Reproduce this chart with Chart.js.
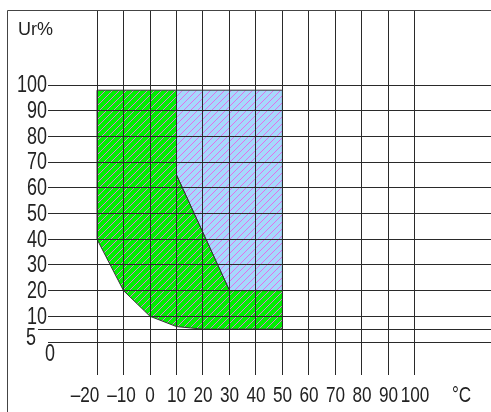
<!DOCTYPE html>
<html>
<head>
<meta charset="utf-8">
<script src="https://cdn.jsdelivr.net/npm/chart.js@4/dist/chart.umd.min.js"></script>
<style>
html,body{margin:0;padding:0;background:#fff;}
canvas{display:block;}
</style>
</head>
<body>
<canvas id="c" width="491" height="412"></canvas>
<script>
// ---- data ----
const xTicks = [-20, -10, 0, 10, 20, 30, 40, 50, 60, 70, 80, 90, 100];
const xLabels = ['–20', '–10', '0', '10', '20', '30', '40', '50', '60', '70', '80', '90', '100'];
const yTicks = [0, 5, 10, 20, 30, 40, 50, 60, 70, 80, 90, 100];
const yLabels = ['0', '5', '10', '20', '30', '40', '50', '60', '70', '80', '90', '100'];
const xUnit = '°C';
const yUnit = 'Ur%';
// green zone (outline, closed)
const greenX = [-20, 10, 10, 30, 50, 50, 20, 10, 0, -10, -20, -20];
const greenY = [98, 98, 65, 20, 20, 5, 5, 6, 10, 20, 40, 98];
// blue zone (outline, closed)
const blueX = [10, 50, 50, 30, 10, 10];
const blueY = [98, 98, 20, 20, 65, 98];

function pts(xs, ys) { return xs.map((x, i) => ({ x: x, y: ys[i] })); }

function hatch(bg, line) {
  const s = 7;
  const c = document.createElement('canvas');
  c.width = s; c.height = s;
  const g = c.getContext('2d');
  g.fillStyle = bg; g.fillRect(0, 0, s, s);
  g.strokeStyle = line; g.lineWidth = 1;
  g.beginPath();
  g.moveTo(-1, s + 1); g.lineTo(s + 1, -1);
  g.moveTo(-1, 1); g.lineTo(1, -1);
  g.moveTo(s - 1, s + 1); g.lineTo(s + 1, s - 1);
  g.stroke();
  return document.getElementById('c').getContext('2d').createPattern(c, 'repeat');
}

const FONT = '"Liberation Sans", Arial, sans-serif';

function txt(ctx, s, x, y, align, sx) {
  const w = ctx.measureText(s).width * sx;
  let left = x;
  if (align === 'right') left = x - w;
  else if (align === 'center') left = x - w / 2;
  ctx.save();
  ctx.translate(left, y);
  ctx.scale(sx, 1);
  ctx.textAlign = 'left';
  ctx.fillText(s, 0, 0);
  ctx.restore();
}

const labelsPlugin = {
  id: 'labels',
  beforeDraw(chart) {
    const ctx = chart.ctx;
    ctx.save();
    ctx.fillStyle = '#fff';
    ctx.fillRect(0, 0, chart.width, chart.height);
    ctx.restore();
  },
  afterDraw(chart) {
    const ctx = chart.ctx;
    const xs = chart.scales.x, ys = chart.scales.y;
    ctx.save();
    // frame
    ctx.strokeStyle = '#444';
    ctx.lineWidth = 1;
    ctx.beginPath();
    ctx.moveTo(7.5, chart.height);
    ctx.lineTo(7.5, 10.5);
    ctx.lineTo(chart.width, 10.5);
    ctx.stroke();
    // short extension of the 5 % line
    const p5 = Math.round(ys.getPixelForValue(5)) + 0.5;
    ctx.strokeStyle = '#2a2a2a';
    ctx.beginPath();
    ctx.moveTo(38, p5);
    ctx.lineTo(chart.chartArea.left, p5);
    ctx.stroke();

    ctx.fillStyle = '#222';
    ctx.font = '23px ' + FONT;
    ctx.textBaseline = 'middle';
    // y labels
    yTicks.forEach((v, i) => {
      const py = ys.getPixelForValue(v);
      if (v === 0) {
        txt(ctx, yLabels[i], 45, py + 13, 'left', 0.78);
      } else if (v === 5) {
        txt(ctx, yLabels[i], 36, py + 9, 'right', 0.78);
      } else {
        txt(ctx, yLabels[i], 47, py + 1, 'right', 0.78);
      }
    });
    // x labels
    ctx.font = '22px ' + FONT;
    xTicks.forEach((v, i) => {
      const px = xs.getPixelForValue(v);
      const off = v === -20 ? -12 : (v === -10 ? -2 : 0);
      txt(ctx, xLabels[i], px + off, 396, 'center', 0.78);
    });
    txt(ctx, xUnit, 452, 396, 'left', 0.78);
    ctx.font = '18px ' + FONT;
    txt(ctx, yUnit, 18, 30, 'left', 1);
    ctx.restore();
  }
};

const gridOpts = { color: '#2a2a2a', lineWidth: 1, z: 1, drawTicks: false };

new Chart(document.getElementById('c'), {
  type: 'scatter',
  data: {
    datasets: [
      {
        label: 'green',
        data: pts(greenX, greenY),
        showLine: true,
        fill: 'shape',
        backgroundColor: hatch('#00f000', '#e070e0'),
        borderColor: '#333',
        borderWidth: 1,
        pointRadius: 0,
        tension: 0
      },
      {
        label: 'blue',
        data: pts(blueX, blueY),
        showLine: true,
        fill: 'shape',
        backgroundColor: hatch('#a6d8fc', '#e070e8'),
        borderColor: '#333',
        borderWidth: 1,
        pointRadius: 0,
        tension: 0
      }
    ]
  },
  plugins: [labelsPlugin],
  options: {
    responsive: false,
    animation: false,
    events: [],
    layout: { padding: { left: 48, top: 10, right: 0, bottom: 37 } },
    plugins: { legend: { display: false }, tooltip: { enabled: false } },
    scales: {
      x: {
        type: 'linear',
        min: -38.5,
        max: 128.7,
        afterBuildTicks: s => { s.ticks = xTicks.map(v => ({ value: v })); },
        afterFit: s => { s.height = 0; },
        ticks: { display: false, autoSkip: false },
        grid: gridOpts,
        border: { display: false }
      },
      y: {
        type: 'linear',
        min: -12.84,
        max: 129.2,
        afterBuildTicks: s => { s.ticks = yTicks.map(v => ({ value: v })); },
        afterFit: s => { s.width = 0; },
        ticks: { display: false, autoSkip: false },
        grid: gridOpts,
        border: { display: false }
      }
    }
  }
});
</script>
</body>
</html>
